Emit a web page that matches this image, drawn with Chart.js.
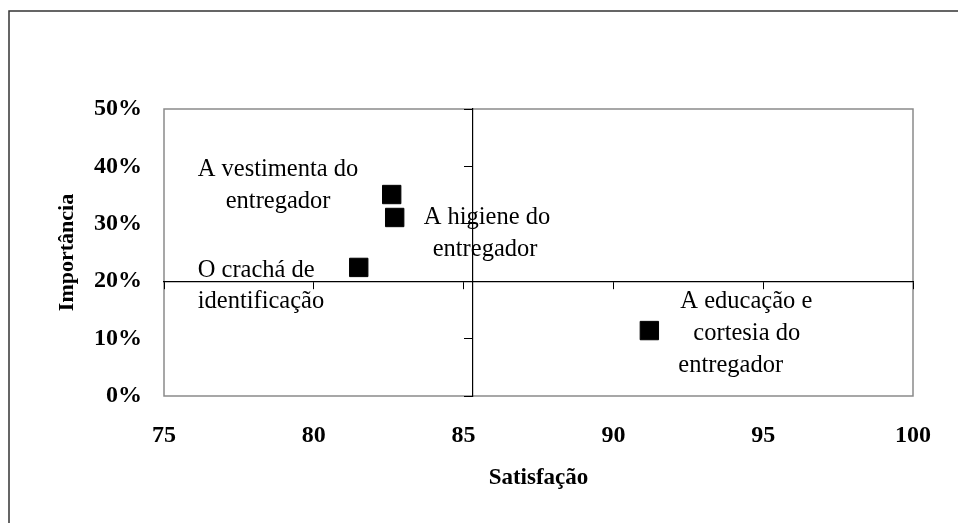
<!DOCTYPE html>
<html>
<head>
<meta charset="utf-8">
<script src="https://cdn.jsdelivr.net/npm/chart.js@4.4.1/dist/chart.umd.min.js"></script>
<style>
  html, body { margin: 0; padding: 0; background: #fff; }
  #wrap { width: 958px; height: 523px; }
</style>
</head>
<body>
<div id="wrap"><canvas id="quadChart" width="958" height="523"></canvas></div>
<script>
// dados
const itens = ['A vestimenta do entregador', 'A higiene do entregador', 'O crachá de identificação', 'A educação e cortesia do entregador'];
const satisfacao = [82.6, 82.7, 81.5, 91.2];
const importancia = [0.351, 0.311, 0.224, 0.114];
const rotulos = [
    ['A vestimenta do', 'entregador'],
    ['A higiene do', 'entregador'],
    ['O crachá de', 'identificação'],
    ['A educação e', 'cortesia do', 'entregador']
];
const xTicks = [75, 80, 85, 90, 95, 100];
const yTicks = [0, 0.1, 0.2, 0.3, 0.4, 0.5];
const mediaSatisfacao = 85.3;
const corteImportancia = 0.2;

// deslocamento (px) de cada linha do rótulo em relação ao ponto
const rotuloPos = [
    [[-194, -19], [-166, 13]],
    [[29, 7], [38, 39]],
    [[-161, 10], [-161, 41]],
    [[31, -23], [44, 9], [29, 41]]
];

const serif = '"Liberation Serif", "Times New Roman", serif';
const padBottom = 27;

const quadrantPlugin = {
    id: 'quadrant',
    beforeDraw(chart) {
        const c = chart.ctx;
        c.save();
        // moldura externa (só esquerda e topo aparecem)
        c.strokeStyle = '#333';
        c.lineWidth = 1.5;
        c.strokeRect(9, 11, 1000, 600);
        // contorno da área de plotagem
        const a = chart.chartArea;
        c.strokeStyle = '#8a8a8a';
        c.lineWidth = 1.5;
        c.strokeRect(a.left, a.top, a.right - a.left, a.bottom - a.top);
        c.restore();
    },
    afterDatasetsDraw(chart) {
        const c = chart.ctx;
        const meta = chart.getDatasetMeta(0);
        c.save();
        c.font = '24.5px ' + serif;
        c.fillStyle = '#000';
        c.textAlign = 'left';
        c.textBaseline = 'alphabetic';
        meta.data.forEach((pt, i) => {
            rotulos[i].forEach((linha, j) => {
                const d = rotuloPos[i][j];
                c.fillText(linha, pt.x + d[0], pt.y + d[1]);
            });
        });
        c.restore();
    }
};

const ctx = document.getElementById('quadChart').getContext('2d');
const myChart = new Chart(ctx, {
    type: 'scatter',
    data: {
        datasets: [{
            label: 'Itens',
            data: satisfacao.map((v, i) => ({ x: v, y: importancia[i] })),
            pointStyle: 'rect',
            pointRadius: 13,
            pointHoverRadius: 13,
            backgroundColor: '#000',
            borderColor: '#000',
            borderWidth: 1
        }]
    },
    options: {
        responsive: false,
        animation: false,
        maintainAspectRatio: false,
        layout: { padding: { top: 109, right: 45, left: 50, bottom: padBottom } },
        plugins: {
            legend: { display: false },
            tooltip: { enabled: false }
        },
        scales: {
            x: {
                type: 'linear',
                position: 'bottom',
                min: 75,
                max: 100,
                afterBuildTicks: s => { s.ticks = xTicks.map(v => ({ value: v })); },
                afterFit: s => { s.height = 523 - padBottom - 396; },
                grid: { display: false, drawTicks: false },
                border: { display: false },
                ticks: {
                    padding: 25,
                    color: '#000',
                    font: { family: serif, size: 24, weight: 'bold' }
                },
                title: {
                    display: true,
                    text: 'Satisfação',
                    color: '#000',
                    padding: { top: 4, bottom: 4 },
                    font: { family: serif, size: 23, weight: 'bold' }
                }
            },
            y: {
                type: 'linear',
                position: 'left',
                min: 0,
                max: 0.5,
                afterBuildTicks: s => { s.ticks = yTicks.map(v => ({ value: v })); },
                afterFit: s => { s.width = 164 - 50; },
                grid: { display: false, drawTicks: false },
                border: { display: false },
                ticks: {
                    padding: 22,
                    color: '#000',
                    font: { family: serif, size: 24, weight: 'bold' },
                    callback: v => Math.round(v * 100) + '%'
                },
                title: {
                    display: true,
                    text: 'Importância',
                    color: '#000',
                    padding: { top: 4, bottom: 4 },
                    font: { family: serif, size: 22, weight: 'bold' }
                }
            },
            xCruz: {
                type: 'linear',
                axis: 'x',
                position: { y: corteImportancia },
                min: 75,
                max: 100,
                afterBuildTicks: s => { s.ticks = xTicks.map(v => ({ value: v })); },
                grid: { drawOnChartArea: false, tickLength: 7, color: '#000', lineWidth: 1 },
                border: { color: '#000', width: 1.2 },
                ticks: { display: false }
            },
            yCruz: {
                type: 'linear',
                axis: 'y',
                position: { x: mediaSatisfacao },
                min: 0,
                max: 0.5,
                afterBuildTicks: s => { s.ticks = yTicks.map(v => ({ value: v })); },
                grid: { drawOnChartArea: false, tickLength: 8, color: '#000', lineWidth: 1 },
                border: { color: '#000', width: 1.2 },
                ticks: { display: false }
            }
        }
    },
    plugins: [quadrantPlugin]
});
</script>
</body>
</html>
